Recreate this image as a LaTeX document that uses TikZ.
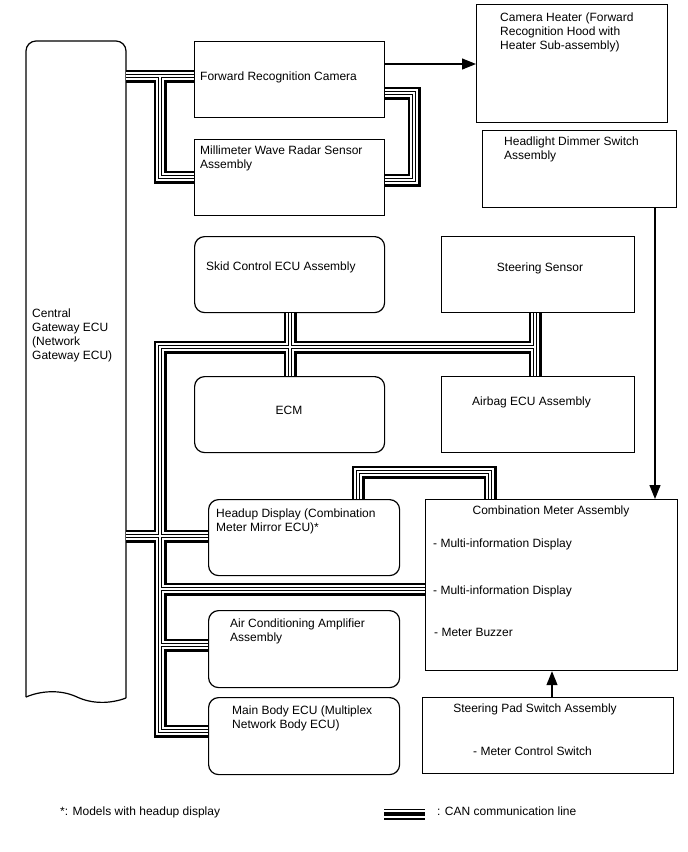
\documentclass[tikz,border=0pt]{standalone}
\usepackage{fontspec}
\setmainfont{Liberation Sans}
\usetikzlibrary{arrows.meta}
\begin{document}
\begin{tikzpicture}[x=1pt,y=-1pt,
  box/.style={draw=black, line width=1.2pt, inner sep=0pt, anchor=north west},
  rbox/.style={box, rounded corners=10pt},
  lbl/.style={anchor=base west, inner sep=0pt, font=\fontsize{12}{14}\selectfont},
  clbl/.style={lbl, anchor=base},
  sig/.style={line width=1.2pt, -{Triangle[length=14pt,width=11pt]}},
  canbus/.style={line width=13pt, black, line cap=butt, line join=miter,
    postaction={draw, white, line width=7.6pt},
    postaction={draw, black, line width=4.4pt},
    postaction={draw, white, line width=2.4pt}}]
\useasboundingbox (0,0) rectangle (688,852);
% boxes
\node[draw=none, inner sep=0pt, anchor=north west, minimum width=100pt, minimum height=657pt] (gw) at (26,41) {};
\draw[line width=1.2pt, rounded corners=10pt] (26,697) -- (26,41) -- (126,41) -- (126,698);
\draw[line width=1.2pt] (126,698) .. controls (110,704) and (92,704) .. (77,697) .. controls (60,689) and (40,691) .. (26,697);
\node[box, minimum width=190pt, minimum height=76pt] (cam) at (194,41) {};
\node[box, minimum width=190pt, minimum height=76pt] (radar) at (194,139) {};
\node[box, minimum width=191pt, minimum height=118pt] (heater) at (476,4) {};
\node[box, minimum width=194pt, minimum height=77pt] (dimmer) at (482,130) {};
\node[rbox, minimum width=190pt, minimum height=76pt] (skid) at (194,236) {};
\node[box, minimum width=193pt, minimum height=76pt] (steer) at (441,236) {};
\node[rbox, minimum width=190pt, minimum height=76pt] (ecm) at (194,376) {};
\node[box, minimum width=193pt, minimum height=76pt] (airbag) at (441,376) {};
\node[rbox, minimum width=191pt, minimum height=76pt] (hud) at (208,499) {};
\node[rbox, minimum width=191pt, minimum height=77pt] (ac) at (208,610) {};
\node[rbox, minimum width=191pt, minimum height=77pt] (mbe) at (208,697) {};
\node[box, minimum width=252pt, minimum height=171pt] (meter) at (425,499) {};
\node[box, minimum width=251pt, minimum height=76pt] (pad) at (422,697) {};
% texts
\node[lbl] (gw1) at (32,317) {Central};
\node[lbl] (gw2) at (32,331) {Gateway ECU};
\node[lbl] (gw3) at (32,345) {(Network};
\node[lbl] (gw4) at (32,359) {Gateway ECU)};
\node[lbl] (camt) at (200,80) {Forward Recognition Camera};
\node[lbl] (radt1) at (200,154) {Millimeter Wave Radar Sensor};
\node[lbl] (radt2) at (200,168) {Assembly};
\node[lbl] (heat1) at (500,21) {Camera Heater (Forward};
\node[lbl] (heat2) at (500,35) {Recognition Hood with};
\node[lbl] (heat3) at (500,49) {Heater Sub-assembly)};
\node[lbl] (dimt1) at (504,145) {Headlight Dimmer Switch};
\node[lbl] (dimt2) at (504,159) {Assembly};
\node[lbl] (skidt) at (206,270) {Skid Control ECU Assembly};
\node[clbl] (steert) at (540,271) {Steering Sensor};
\node[clbl] (ecmt) at (289,414) {ECM};
\node[lbl] (airt) at (472,405) {Airbag ECU Assembly};
\node[lbl] (hudt1) at (216,517) {Headup Display (Combination};
\node[lbl] (hudt2) at (216,531) {Meter Mirror ECU)*};
\node[lbl] (act1) at (230,627) {Air Conditioning Amplifier};
\node[lbl] (act2) at (230,641) {Assembly};
\node[lbl] (mbet1) at (232,714) {Main Body ECU (Multiplex};
\node[lbl] (mbet2) at (232,728) {Network Body ECU)};
\node[clbl] (mett) at (551,514) {Combination Meter Assembly};
\node[lbl] (met1) at (433,547) {- Multi-information Display};
\node[lbl] (met2) at (433,594) {- Multi-information Display};
\node[lbl] (met3) at (434,636) {- Meter Buzzer};
\node[clbl] (padt1) at (535,712) {Steering Pad Switch Assembly};
\node[lbl] (padt2) at (473,755) {- Meter Control Switch};
\node[lbl] (leg1) at (60,815) {*: Models with headup display};
\node[lbl] (leg2) at (437,815) {: CAN communication line};
% signal lines
\draw[sig] (cam.east |- 0,64) -- (heater.west |- 0,64);
\draw[sig] (dimmer.south -| 655,0) -- (meter.north -| 655,0);
\draw[sig] (pad.north -| 552,0) -- (meter.south -| 552,0);
% CAN bus
\draw[canbus]
  (gw.east |- 0,76) -- (cam.west |- 0,76)
  (160,76) -- (160,177) -- (radar.west |- 0,177)
  (cam.east |- 0,93) -- (414,93) -- (414,180) -- (radar.east |- 0,180)
  (535,347) -- (160,347) -- (160,731) -- (mbe.west |- 0,731)
  (skid.south -| 290,0) -- (ecm.north -| 290,0)
  (steer.south -| 535,0) -- (airbag.north -| 535,0)
  (gw.east |- 0,536) -- (hud.west |- 0,536)
  (160,589) -- (meter.west |- 0,589)
  (160,645) -- (ac.west |- 0,645)
  (hud.north -| 358,0) -- (358,472) -- (490,472) -- (meter.north -| 490,0);
\coordinate (lega) at (384,814);
\coordinate (legb) at (425,814);
\draw[canbus, line width=11pt, postaction={draw, black, line width=3.2pt}] (lega) -- (legb);
\end{tikzpicture}
\end{document}
